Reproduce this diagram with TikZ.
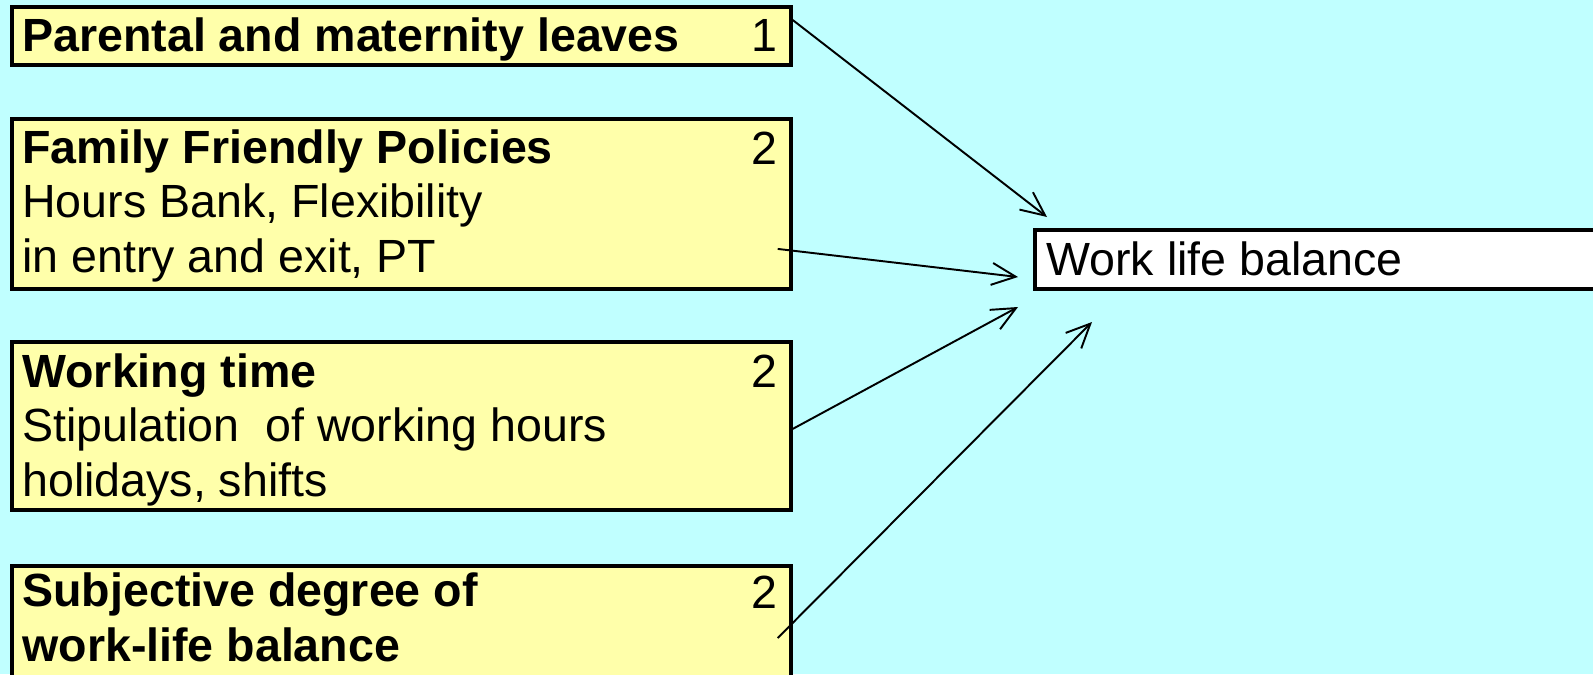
\documentclass[tikz,border=0pt]{standalone}
\usepackage{fontspec}
\setmainfont{Liberation Sans}
\usetikzlibrary{arrows.meta, calc}
\definecolor{bgcolor}{RGB}{192, 255, 255}
\definecolor{notecolor}{RGB}{255, 255, 170}

\begin{document}
\begin{tikzpicture}[
    x=0.02cm, y=-0.02cm,
    >={Straight Barb[length=4.8mm, width=4.4mm]},
    panel/.style={rectangle, draw, line width=2.2pt, fill=notecolor, anchor=north west, minimum width=15.58cm, inner sep=0pt},
    result/.style={panel, fill=white, minimum width=12cm, minimum height=1.18cm},
    txt/.style={anchor=base west, align=left, inner sep=0pt, font=\fontsize{26.5}{31}\selectfont},
    num/.style={anchor=base east, inner sep=0pt, font=\fontsize{26.5}{31}\selectfont},
    arrow/.style={->, line width=1.1pt}
]

% Background
\useasboundingbox (0, 0) rectangle (1593, 674);
\fill[bgcolor] (0, 0) rectangle (1593, 674);

% Boxes
\node[panel, minimum height=1.16cm] (par) at (10, 5) {};
\node[panel, minimum height=3.4cm] (fam) at (10, 117) {};
\node[panel, minimum height=3.36cm] (work) at (10, 340) {};
\node[panel, minimum height=3cm] (subj) at (10, 564) {};
\node[result] (wlb) at (1033, 228) {};

% Texts (base = last line)
\node[txt] (partext) at (22, 51) {\textbf{Parental and maternity leaves}};
\node[txt] (famtext) at (22, 272) {\textbf{Family Friendly Policies}\\Hours Bank, Flexibility\\in entry and exit, PT};
\node[txt] (worktext) at (22, 496) {\textbf{Working time}\\Stipulation\ \ of working hours\\holidays, shifts};
\node[txt] (subjtext) at (22, 661) {\textbf{Subjective degree of}\\\textbf{work-life balance}};
\node[txt] (wlbtext) at (1046, 275) {Work life balance};

% Numbers
\node[num] (n1) at (778, 51) {1};
\node[num] (n2) at (778, 164) {2};
\node[num] (n3) at (778, 387) {2};
\node[num] (n4) at (778, 608) {2};

% Arrow tips
\coordinate (t1) at (1047, 217);
\coordinate (t2) at (1018, 277);
\coordinate (t3) at (1018, 307);
\coordinate (t4) at (1092, 322);

% Arrows
\draw[arrow] ($(par.north east)+(0, 15)$) -- (t1);
\draw[arrow] ($(fam.east)+(-15, 45)$) -- (t2);
\draw[arrow] ($(work.east)+(0, 3)$) -- (t3);
\draw[arrow] ($(subj.north east)+(-15, 74)$) -- (t4);

\end{tikzpicture}
\end{document}
